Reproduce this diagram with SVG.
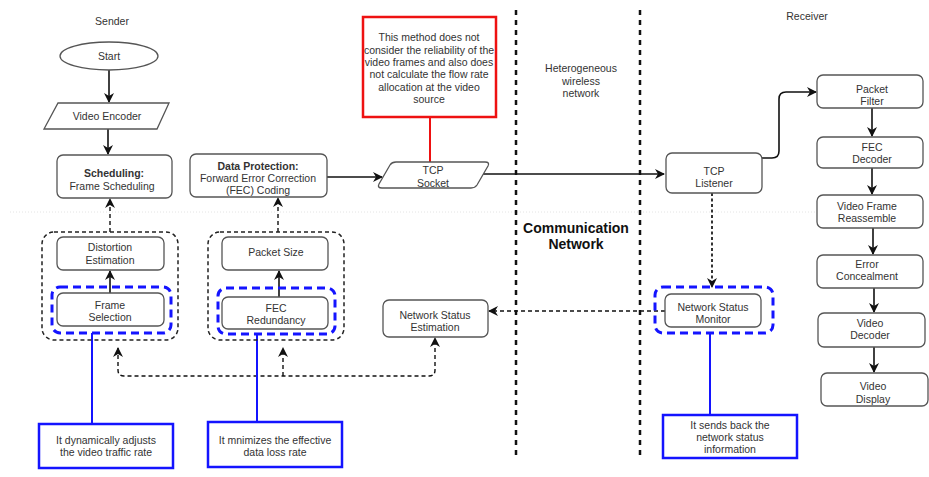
<svg xmlns="http://www.w3.org/2000/svg" width="929" height="477" viewBox="0 0 929 477">
<style>
text{font-family:"Liberation Sans",Arial,sans-serif;font-size:10.5px;fill:#333;text-anchor:middle;dominant-baseline:central}
.b{font-weight:bold}
.big{font-size:14px;font-weight:bold;fill:#111}
.box{fill:#fff;stroke:#555;stroke-width:1.3}
.blue{fill:none;stroke:#1414ff;stroke-width:3;stroke-dasharray:8 5}
.note{fill:#fff;stroke:#1414ff;stroke-width:2.5}
.red{fill:#fff;stroke:#ee1111;stroke-width:2.5}
.grp{fill:none;stroke:#222;stroke-width:1.5;stroke-dasharray:4 3}
.arr{fill:none;stroke:#111;stroke-width:1.6}
.dsh{fill:none;stroke:#111;stroke-width:1.4;stroke-dasharray:4 3}
.dot{fill:none;stroke:#111;stroke-width:1.7;stroke-dasharray:3 2.5}
.sep{fill:none;stroke:#111;stroke-width:2.5;stroke-dasharray:5 5}
.faint{fill:none;stroke:#e4e4e4;stroke-width:1;stroke-dasharray:1 2}
.bl{fill:none;stroke:#1414ff;stroke-width:2}
.rl{fill:none;stroke:#ee1111;stroke-width:2}
</style>
<defs>
<marker id="ah" viewBox="0 0 10 10" refX="9" refY="5" markerWidth="10" markerHeight="10" markerUnits="userSpaceOnUse" orient="auto-start-reverse">
<path d="M0,0 L10,5 L0,10 L3,5 Z" fill="#111"/>
</marker>
</defs>

<g id="background">
<line class="faint" x1="10" y1="212" x2="925" y2="212"/>
<line class="sep" x1="516" y1="10" x2="516" y2="460"/>
<line class="sep" x1="640" y1="10" x2="640" y2="460"/>
<text x="112" y="21">Sender</text>
<text x="807" y="16">Receiver</text>
<text x="581" y="68">Heterogeneous</text>
<text x="581" y="81">wireless</text>
<text x="581" y="93">network</text>
<text class="big" x="576" y="228">Communication</text>
<text class="big" x="576" y="244">Network</text>
</g>

<g id="connectors">
<line class="arr" x1="109" y1="70" x2="109" y2="102" marker-end="url(#ah)"/>
<line class="arr" x1="108" y1="129" x2="108" y2="154" marker-end="url(#ah)"/>
<line class="arr" x1="327" y1="177" x2="382" y2="177" marker-end="url(#ah)"/>
<line class="arr" x1="482" y1="174" x2="664" y2="174" marker-end="url(#ah)"/>
<path class="arr" d="M762,158 L772,158 Q779,158 779,151 L779,99 Q779,92 786,92 L816,92" marker-end="url(#ah)"/>
<line class="arr" x1="872" y1="108" x2="872" y2="136" marker-end="url(#ah)"/>
<line class="arr" x1="872" y1="168" x2="872" y2="194" marker-end="url(#ah)"/>
<line class="arr" x1="873" y1="228" x2="873" y2="254" marker-end="url(#ah)"/>
<line class="arr" x1="874" y1="288" x2="874" y2="312" marker-end="url(#ah)"/>
<line class="arr" x1="874" y1="347" x2="874" y2="372" marker-end="url(#ah)"/>
<line class="rl" x1="430" y1="117" x2="430" y2="162"/>
<line class="dsh" x1="110" y1="232" x2="110" y2="199" marker-end="url(#ah)"/>
<line class="dsh" x1="278" y1="232" x2="278" y2="198" marker-end="url(#ah)"/>
<line class="arr" x1="110" y1="293" x2="110" y2="271" marker-end="url(#ah)"/>
<line class="arr" x1="279" y1="297" x2="279" y2="271" marker-end="url(#ah)"/>
<line class="dot" x1="712" y1="193" x2="712" y2="287" marker-end="url(#ah)"/>
<line class="dsh" x1="665" y1="311" x2="489" y2="311" marker-end="url(#ah)"/>
<path class="dsh" d="M118,348 L118,370 Q118,376 124,376 L429,376 Q435,376 435,370 L435,338" marker-start="url(#ah)" marker-end="url(#ah)"/>
<line class="dsh" x1="283" y1="376" x2="283" y2="348" marker-end="url(#ah)"/>
<line class="bl" x1="92" y1="333" x2="92" y2="424"/>
<line class="bl" x1="257" y1="334" x2="257" y2="422"/>
<line class="bl" x1="710" y1="333" x2="710" y2="415"/>
</g>

<g id="start">
<ellipse class="box" cx="109" cy="56" rx="49" ry="14"/>
<text x="109" y="56">Start</text>
</g>
<g id="video-encoder">
<path class="box" d="M58,103 L169,103 L157,129 L44,129 Z"/>
<text x="107" y="116">Video Encoder</text>
</g>
<g id="scheduling">
<rect class="box" x="57" y="155" width="115" height="43" rx="6"/>
<text class="b" x="114" y="173">Scheduling:</text>
<text x="112" y="186">Frame Scheduling</text>
</g>
<g id="data-protection">
<rect class="box" x="190" y="154" width="137" height="43" rx="6"/>
<text class="b" x="258" y="166">Data Protection:</text>
<text x="258" y="178">Forward Error Correction</text>
<text x="258" y="190">(FEC) Coding</text>
</g>
<g id="tcp-socket">
<path class="box" d="M396,162 L485,162 Q490,162 488,166 L477,185 Q475,188 471,188 L382,188 Q377,188 379,184 L390,165 Q392,162 396,162 Z"/>
<text x="433" y="170">TCP</text>
<text x="433" y="183">Socket</text>
</g>
<g id="red-note">
<rect class="red" x="363" y="17" width="133" height="100"/>
<text x="429" y="37">This method does not</text>
<text x="429" y="50">consider the reliability of the</text>
<text x="429" y="62">video frames and also does</text>
<text x="429" y="74">not calculate the flow rate</text>
<text x="429" y="87">allocation at the video</text>
<text x="429" y="99">source</text>
</g>
<g id="tcp-listener">
<rect class="box" x="666" y="153" width="96" height="40" rx="6"/>
<text x="714" y="171">TCP</text>
<text x="714" y="183">Listener</text>
</g>
<g id="packet-filter">
<rect class="box" x="817" y="75" width="106" height="33" rx="6"/>
<text x="872" y="89">Packet</text>
<text x="872" y="101">Filter</text>
</g>
<g id="fec-decoder">
<rect class="box" x="817" y="137" width="106" height="31" rx="6"/>
<text x="872" y="147">FEC</text>
<text x="872" y="159">Decoder</text>
</g>
<g id="video-frame-reassemble">
<rect class="box" x="817" y="195" width="106" height="33" rx="6"/>
<text x="867" y="206">Video Frame</text>
<text x="867" y="218">Reassemble</text>
</g>
<g id="error-concealment">
<rect class="box" x="817" y="255" width="106" height="33" rx="6"/>
<text x="867" y="264">Error</text>
<text x="867" y="276">Concealment</text>
</g>
<g id="video-decoder">
<rect class="box" x="818" y="313" width="107" height="34" rx="6"/>
<text x="870" y="323">Video</text>
<text x="870" y="335">Decoder</text>
</g>
<g id="video-display">
<rect class="box" x="821" y="373" width="107" height="33" rx="6"/>
<text x="873" y="386">Video</text>
<text x="873" y="399">Display</text>
</g>

<g id="frame-group">
<rect class="grp" x="42" y="232" width="136" height="108" rx="12"/>
<g id="distortion-estimation">
<rect class="box" x="57" y="237" width="107" height="33" rx="6"/>
<text x="110" y="247">Distortion</text>
<text x="110" y="260">Estimation</text>
</g>
<g id="frame-selection">
<rect class="box" x="57" y="293" width="107" height="33" rx="6"/>
<text x="110" y="305">Frame</text>
<text x="110" y="317">Selection</text>
</g>
<rect class="blue" x="52" y="287" width="119" height="46" rx="8"/>
</g>

<g id="fec-group">
<rect class="grp" x="208" y="232" width="136" height="108" rx="12"/>
<g id="packet-size">
<rect class="box" x="222" y="237" width="106" height="33" rx="6"/>
<text x="276" y="252">Packet Size</text>
</g>
<g id="fec-redundancy">
<rect class="box" x="222" y="297" width="106" height="32" rx="6"/>
<text x="276" y="308">FEC</text>
<text x="276" y="320">Redundancy</text>
</g>
<rect class="blue" x="218" y="288" width="117" height="46" rx="8"/>
</g>

<g id="network-status-estimation">
<rect class="box" x="383" y="300" width="105" height="37" rx="6"/>
<text x="435" y="315">Network Status</text>
<text x="435" y="327">Estimation</text>
</g>
<g id="network-status-monitor">
<rect class="box" x="665" y="294" width="96" height="33" rx="6"/>
<text x="713" y="307">Network Status</text>
<text x="713" y="319">Monitor</text>
<rect class="blue" x="655" y="287" width="118" height="46" rx="8"/>
</g>

<g id="note-frame">
<rect class="note" x="39" y="424" width="134" height="44"/>
<text x="106" y="440">It dynamically adjusts</text>
<text x="106" y="452">the video traffic rate</text>
</g>
<g id="note-fec">
<rect class="note" x="208" y="422" width="134" height="45"/>
<text x="275" y="440">It mnimizes the effective</text>
<text x="275" y="452">data loss rate</text>
</g>
<g id="note-monitor">
<rect class="note" x="663" y="415" width="134" height="43"/>
<text x="730" y="425">It sends back the</text>
<text x="730" y="437">network status</text>
<text x="730" y="449">information</text>
</g>
</svg>
